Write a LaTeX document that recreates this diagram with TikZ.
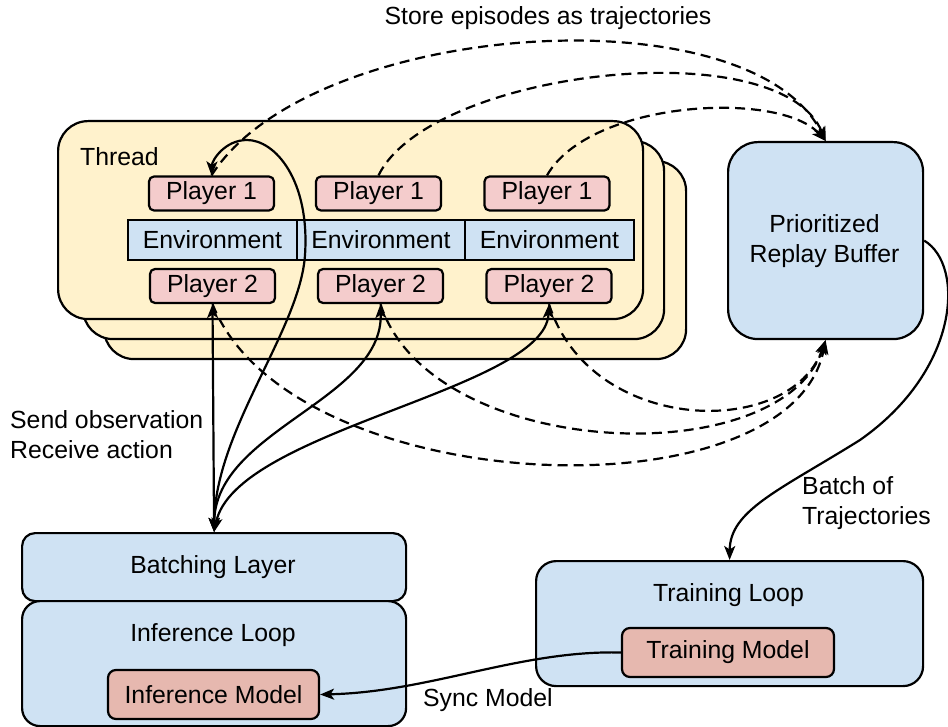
\documentclass[tikz,border=0pt]{standalone}
\usepackage{fontspec}
\setmainfont{Liberation Sans}
\usetikzlibrary{arrows.meta}
\definecolor{thrfill}{HTML}{FFF2CC}
\definecolor{plfill}{HTML}{F4CCCC}
\definecolor{blfill}{HTML}{CFE2F3}
\definecolor{mdfill}{HTML}{E6B8AF}
\begin{document}
\begin{tikzpicture}[x=1pt,y=-1pt,
  every node/.style={font=\fontsize{24.8pt}{30pt}\selectfont, inner sep=0pt},
  box/.style={draw, line width=2.2pt, anchor=north west},
  threadbox/.style={box, fill=thrfill, rounded corners=30pt, minimum height=198pt},
  playerbox/.style={draw, line width=2.2pt, fill=plfill, rounded corners=5pt, minimum width=125pt, minimum height=34pt},
  envbox/.style={draw, line width=2.2pt, fill=blfill, minimum width=168.5pt, minimum height=40pt},
  bluebox/.style={box, fill=blfill},
  modelbox/.style={draw, line width=2.2pt, fill=mdfill, rounded corners=8pt, minimum width=211pt, minimum height=49pt},
  tip/.tip={Stealth[length=14pt,width=11pt,inset=3.5pt]},
  sol/.style={line width=2.2pt},
  dsh/.style={line width=2.2pt, dash pattern=on 10pt off 6pt},
  lbl/.style={align=left, anchor=west}
]
\useasboundingbox (0,0) rectangle (948,727);

% thread stack
\node[threadbox, minimum width=582pt] (thread3) at (103,160) {};
\node[threadbox, minimum width=581pt] (thread2) at (82,140) {};
\node[threadbox, minimum width=585pt] (thread1) at (57,120) {};
\node[anchor=west] (threadlbl) at (80,157) {Thread};

% players and environments
\node[playerbox] (p1a) at (211.5,193.5) {Player 1};
\node[playerbox] (p1b) at (378.5,193.5) {Player 1};
\node[playerbox] (p1c) at (547,193.5) {Player 1};
\node[envbox] (enva) at (212.5,240) {Environment};
\node[envbox] (envb) at (381,240) {Environment};
\node[envbox] (envc) at (549.5,240) {Environment};
\node[playerbox] (p2a) at (212.5,286) {Player 2};
\node[playerbox] (p2b) at (380.5,286) {Player 2};
\node[playerbox] (p2c) at (549,286) {Player 2};

% replay buffer
\node[bluebox, rounded corners=30pt, minimum width=195pt, minimum height=197pt] (buf) at (727,141) {};
\node[align=center] (buflbl) at (824.5,241) {Prioritized\\Replay Buffer};

% batching / inference
\node[bluebox, rounded corners=13pt, minimum width=384pt, minimum height=68pt] (bat) at (21,532) {};
\node (batlbl) at (213,567) {Batching Layer};
\node[bluebox, rounded corners=18pt, minimum width=384pt, minimum height=125pt] (inf) at (21,600) {};
\node (inflbl) at (213,635) {Inference Loop};
\node[modelbox] (im) at (213.5,694.5) {Inference Model};

% training
\node[bluebox, rounded corners=20pt, minimum width=387pt, minimum height=125pt] (train) at (535,560) {};
\node (trainlbl) at (728.5,595) {Training Loop};
\node[modelbox, minimum width=212pt] (tm) at (728,652.5) {Training Model};

% labels
\node (storelbl) at (548,18) {Store episodes as trajectories};
\node[lbl] (sendlbl) at (10,434.5) {Send observation\\Receive action};
\node[lbl] (batchlbl) at (802,503) {Batch of\\Trajectories};
\node[lbl] (synclbl) at (423,700) {Sync Model};

% dashed: players 1 -> buffer top
\draw[dsh, -tip] (p1a.north) .. controls (310,20) and (750,-10) .. (buf.north);
\draw[dsh, -tip] (p1b.north) .. controls (430,70) and (780,30) .. (buf.north);
\draw[dsh, -tip] (p1c.north) .. controls (590,100) and (780,90) .. (buf.north);

% dashed: players 2 -> buffer bottom
\draw[dsh, -tip] (p2a.south) .. controls (290,500) and (790,520) .. (buf.south);
\draw[dsh, -tip] (p2b.south) .. controls (430,460) and (780,475) .. (buf.south);
\draw[dsh, -tip] (p2c.south) .. controls (590,435) and (790,440) .. (buf.south);

% solid: batching <-> players
\draw[sol, tip-tip] (bat.north) -- (p2a.south);
\draw[sol, tip-tip] (bat.north) .. controls (215,430) and (383,400) .. (p2b.south);
\draw[sol, tip-tip] (bat.north) .. controls (235,430) and (545,390) .. (p2c.south);
\draw[sol, tip-tip] (bat.north) .. controls (215,430) and (300,330) .. (305,255)
   .. controls (310,180) and (275,140) .. (247,140)
   .. controls (225,140) and (212,160) .. (p1a.north);

% buffer -> training
\draw[sol, -tip] (buf.east) .. controls (965,265) and (960,370) .. (860,440)
   .. controls (780,490) and (730,510) .. (train.north);

% sync
\draw[sol, -tip] (tm.west) .. controls (520,650) and (430,692) .. (im.east);
\end{tikzpicture}
\end{document}
